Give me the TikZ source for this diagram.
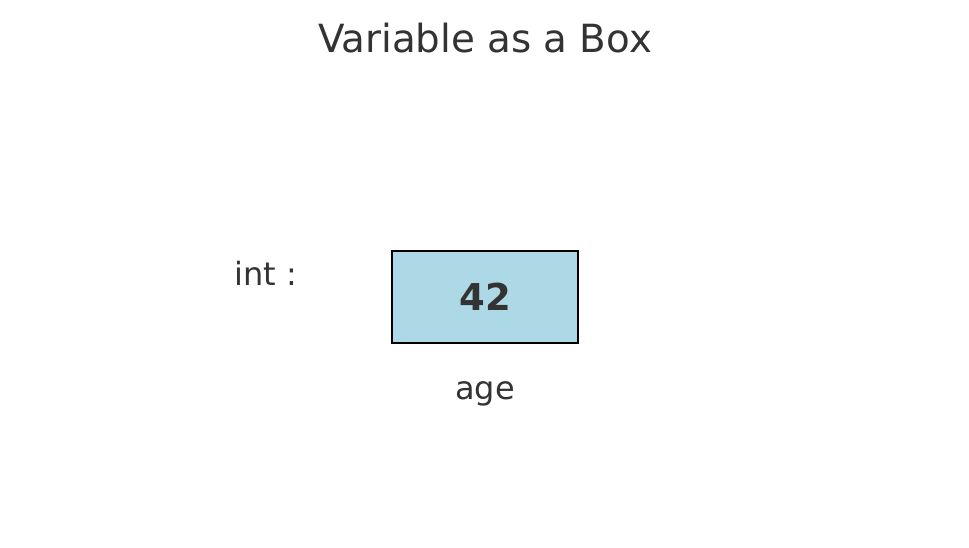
\documentclass[tikz,border=0pt]{standalone}
\usepackage{fontspec}
\setmainfont{DejaVu Sans}
\usepackage{xcolor}
\usetikzlibrary{positioning}
\definecolor{textgray}{HTML}{333333}
\definecolor{boxblue}{HTML}{ADD8E6}

\begin{document}
\begin{tikzpicture}[x=1pt,y=-1pt]
\useasboundingbox[fill=white] (0,0) rectangle (969,548);

\node[text=textgray,font=\fontsize{38.8}{44}\selectfont] (title) at (485,38) {Variable as a Box};

\node[draw=black,line width=2.6pt,fill=boxblue,minimum width=186pt,minimum height=92pt,
      text=textgray,font=\fontsize{37}{42}\bfseries\selectfont] (agebox) at (485,297) {42};
\node[text=textgray,font=\fontsize{32}{38}\selectfont,below=34pt of agebox] (agename) {age};
\node[text=textgray,font=\fontsize{32}{38}\selectfont] (inttype) at (266,273) {int :};
\end{tikzpicture}
\end{document}
